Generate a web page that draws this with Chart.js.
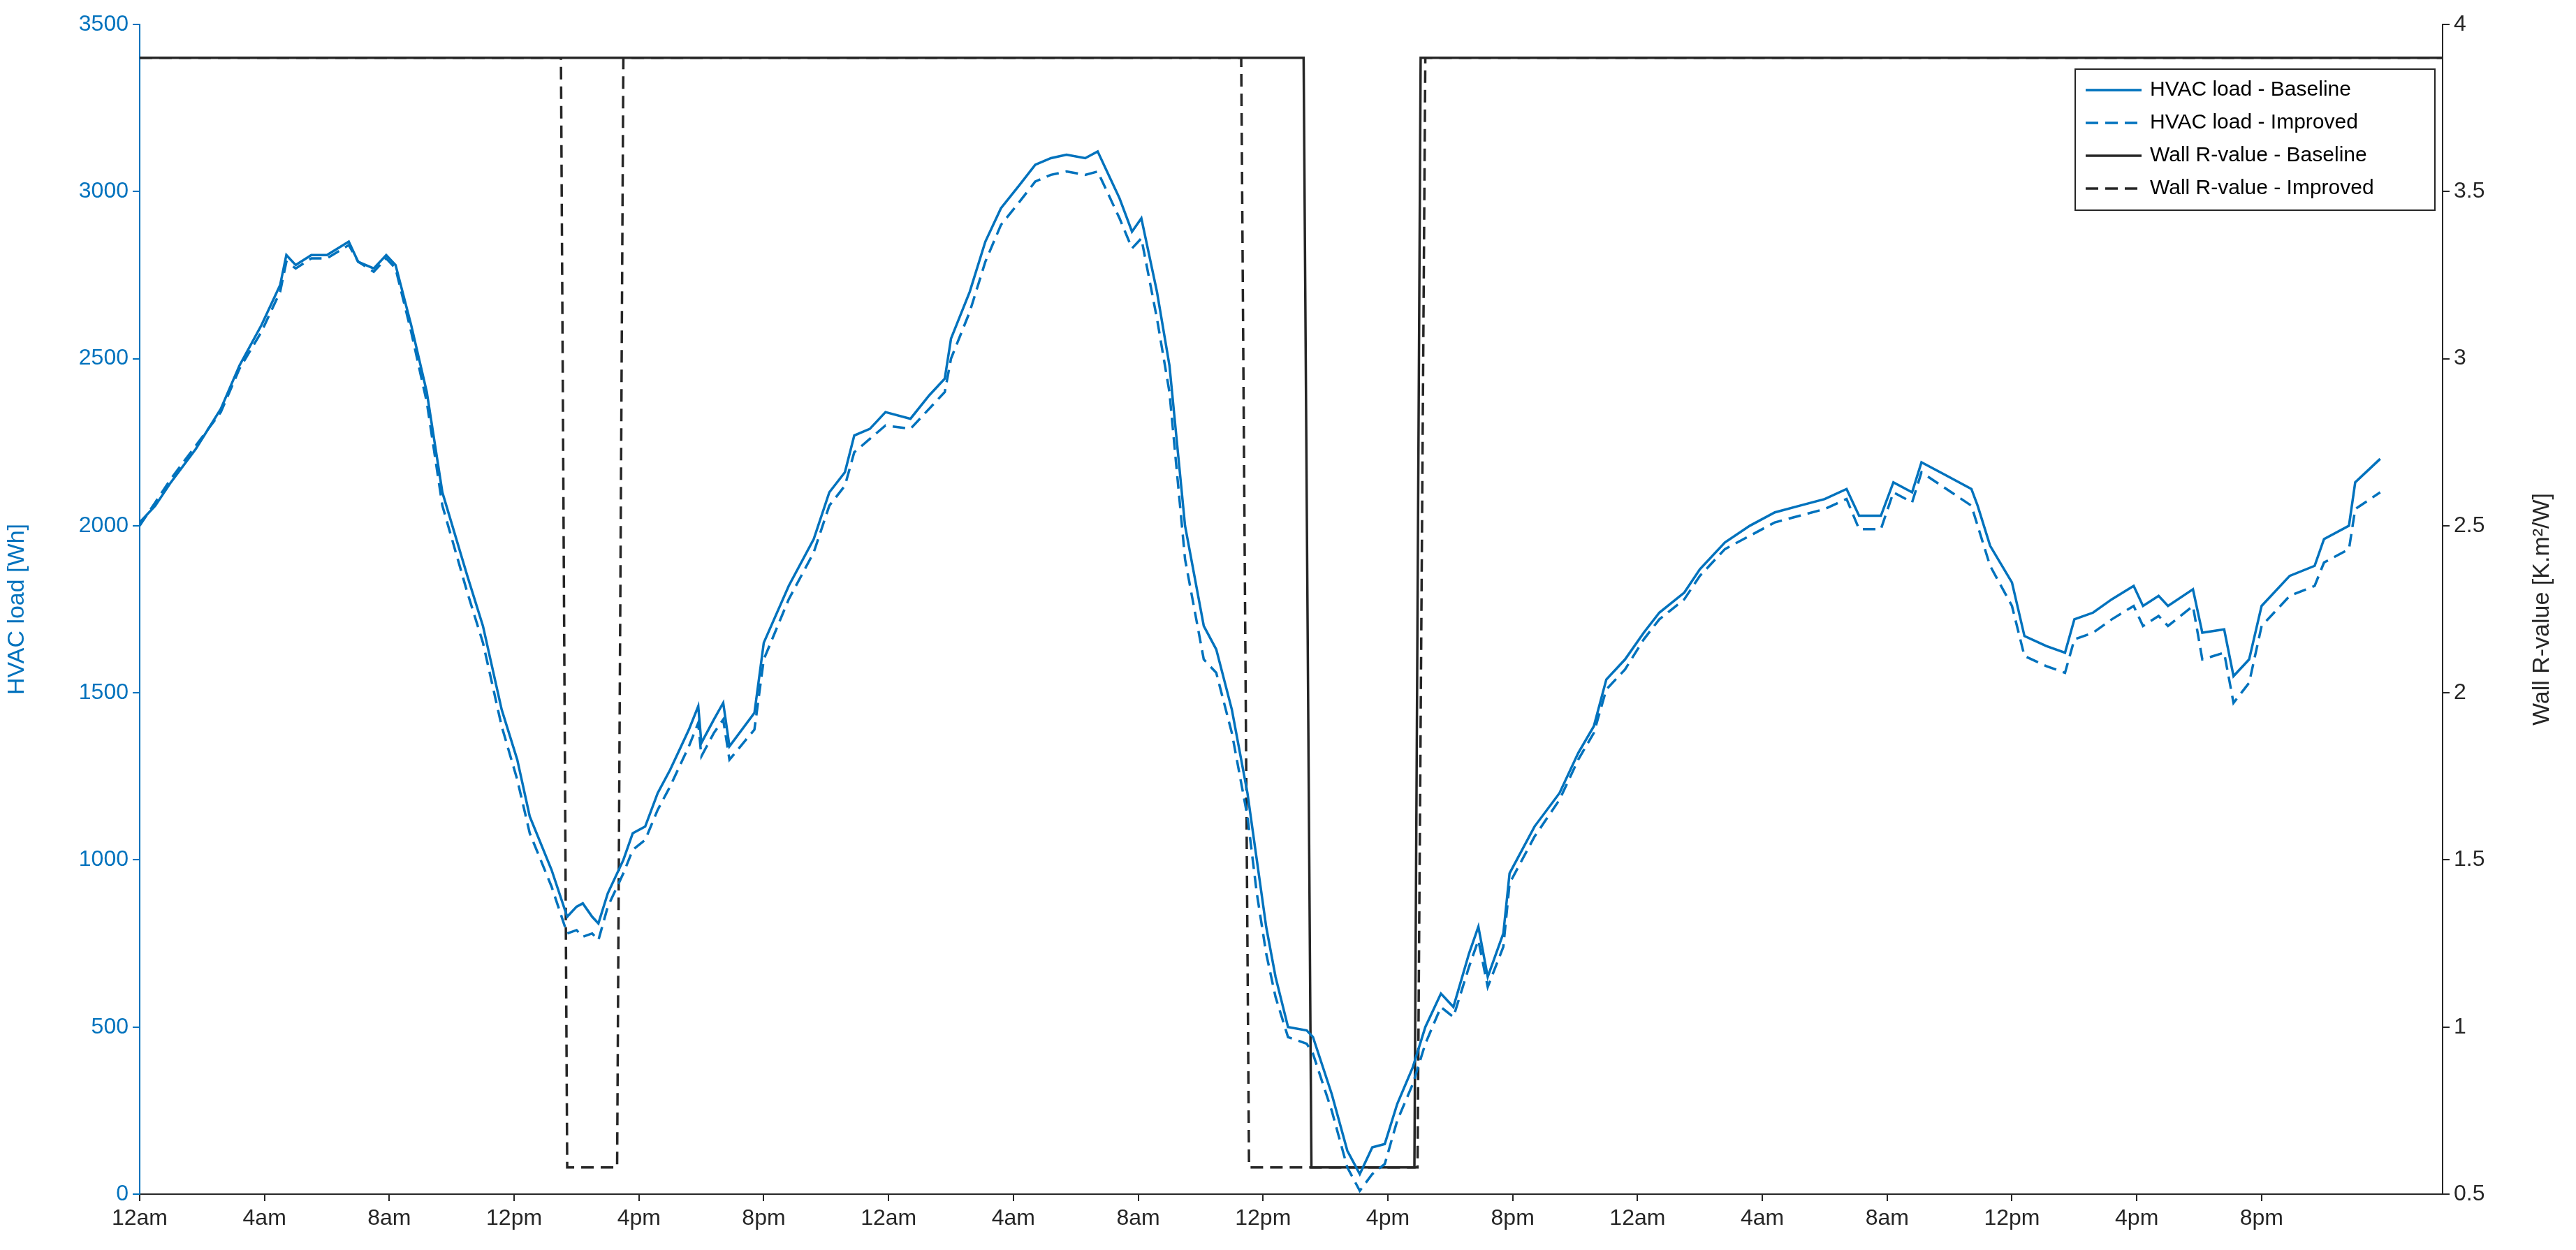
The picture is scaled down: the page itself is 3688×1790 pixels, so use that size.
<!DOCTYPE html>
<html><head><meta charset="utf-8">
<script src="https://cdn.jsdelivr.net/npm/chart.js@4"></script>
<style>html,body{margin:0;padding:0;background:#fff}#w{width:3688px;height:1790px}</style>
</head><body><div id="w"><canvas id="c"></canvas></div>
<script>
const hours = [0,0.5,1,1.8,2.6,3.2,3.9,4.5,4.7,5,5.5,6,6.7,7,7.5,7.9,8.2,8.7,9.2,9.7,10.5,11,11.6,12.1,12.5,13.2,13.7,14,14.2,14.5,14.7,15,15.5,15.8,16.2,16.6,17,17.4,17.6,17.9,18,18.4,18.7,18.9,19.7,20,20.8,21.6,22.1,22.6,22.9,23.4,23.9,24.7,25.3,25.8,26,26.6,27.1,27.6,28.2,28.7,29.2,29.7,30.3,30.7,31.1,31.4,31.8,32.1,32.6,33,33.5,34.1,34.5,35,35.5,35.8,36.1,36.4,36.8,37.4,37.6,38.2,38.7,39.1,39.5,39.9,40.3,40.8,41.2,41.7,42.1,42.6,42.9,43.2,43.7,43.9,44.7,45.5,46.1,46.6,47,47.6,48.2,48.7,49.5,50,50.8,51.6,52.4,53.2,54,54.7,55.1,55.8,56.2,56.8,57.1,57.9,58.7,58.9,59.3,60,60.4,61.1,61.7,62,62.6,63.2,63.9,64.2,64.7,65,65.8,66.1,66.8,67.1,67.6,68,68.9,69.7,70,70.8,71,71.8];
const loadBaseline = [2010,2060,2130,2230,2350,2480,2600,2720,2810,2780,2810,2810,2850,2790,2770,2810,2780,2600,2400,2100,1850,1700,1450,1300,1130,970,830,860,870,830,810,900,1000,1080,1100,1200,1270,1350,1390,1460,1350,1420,1470,1340,1440,1650,1820,1960,2100,2160,2270,2290,2340,2320,2390,2440,2560,2700,2850,2950,3020,3080,3100,3110,3100,3120,3040,2980,2880,2920,2700,2480,2000,1700,1630,1450,1200,1000,800,650,500,490,470,300,130,60,140,150,270,380,500,600,560,720,800,650,780,960,1100,1200,1320,1400,1540,1600,1680,1740,1800,1870,1950,2000,2040,2060,2080,2110,2030,2030,2130,2100,2190,2150,2110,2060,1940,1830,1670,1640,1620,1720,1740,1780,1820,1760,1790,1760,1810,1680,1690,1550,1600,1760,1850,1880,1960,2000,2130,2200];
const loadImproved = [2000,2070,2140,2240,2340,2470,2580,2700,2790,2770,2800,2800,2840,2790,2760,2800,2770,2580,2370,2060,1800,1650,1400,1240,1080,920,780,790,770,780,760,860,960,1030,1060,1150,1220,1300,1340,1410,1310,1380,1420,1300,1390,1600,1780,1920,2060,2120,2220,2260,2300,2290,2350,2400,2500,2640,2790,2900,2970,3030,3050,3060,3050,3060,2980,2920,2830,2860,2620,2400,1900,1600,1560,1380,1130,900,720,590,470,450,420,250,80,10,60,90,220,330,450,560,530,680,760,620,740,930,1070,1180,1300,1380,1510,1570,1660,1720,1780,1850,1930,1970,2010,2030,2050,2080,1990,1990,2100,2070,2160,2110,2060,2000,1880,1760,1610,1580,1560,1660,1680,1720,1760,1700,1730,1700,1760,1600,1620,1470,1530,1700,1790,1820,1890,1930,2050,2100];
const rHoursBaseline = [0,37.3,37.55,40.85,41.05,73.8];
const rBaseline = [3.9,3.9,0.58,0.58,3.9,3.9];
const rHoursImproved = [0,13.5,13.7,15.3,15.5,35.3,35.55,40.95,41.2,73.8];
const rImproved = [3.9,3.9,0.58,0.58,3.9,3.9,0.58,0.58,3.9,3.9];
const tickHours = [0,4,8,12,16,20,24,28,32,36,40,44,48,52,56,60,64,68];
const tickLabels = ['12am','4am','8am','12pm','4pm','8pm','12am','4am','8am','12pm','4pm','8pm','12am','4am','8am','12pm','4pm','8pm'];
const legendLabels = ['HVAC load - Baseline','HVAC load - Improved','Wall R-value - Baseline','Wall R-value - Improved'];
const rightTitle = 'Wall R-value [K.m²/W]';

const BLUE = '#0072BD', DARK = '#262626';
const pts = (xs, ys) => xs.map((x,i)=>({x, y: ys[i]}));
const F = 'Helvetica, "Liberation Sans", Arial, sans-serif';

const legendPlugin = {
  id:'legbox',
  afterDraw(chart){
    const ctx = chart.ctx;
    const x0=2971, y0=99, w=515, h=202;
    ctx.save();
    ctx.fillStyle='#fff'; ctx.fillRect(x0,y0,w,h);
    ctx.strokeStyle='#262626'; ctx.lineWidth=2; ctx.strokeRect(x0,y0,w,h);
    const styles=[[BLUE,[]],[BLUE,[18,10]],[DARK,[]],[DARK,[18,10]]];
    ctx.font='30px '+F; ctx.textBaseline='middle'; ctx.fillStyle='#000';
    legendLabels.forEach((t,i)=>{
      const yy=y0+30+i*47;
      ctx.strokeStyle=styles[i][0]; ctx.setLineDash(styles[i][1]); ctx.lineWidth=3.5;
      ctx.beginPath(); ctx.moveTo(x0+15,yy); ctx.lineTo(x0+95,yy); ctx.stroke();
      ctx.setLineDash([]); ctx.fillText(t,x0+107,yy);
    });
    // right axis title, reading bottom-to-top
    const ca = chart.chartArea;
    ctx.translate(3640,(ca.top+ca.bottom)/2);
    ctx.rotate(-Math.PI/2);
    ctx.textAlign='center'; ctx.fillStyle=DARK; ctx.font='34px '+F;
    ctx.fillText(rightTitle,0,0);
    ctx.restore();
  }
};

new Chart(document.getElementById('c'),{
  type:'line',
  data:{datasets:[
    {data:pts(hours,loadBaseline),borderColor:BLUE,borderWidth:3.5,pointRadius:0,yAxisID:'y',tension:0},
    {data:pts(hours,loadImproved),borderColor:BLUE,borderWidth:3.5,borderDash:[18,10],pointRadius:0,yAxisID:'y',tension:0},
    {data:pts(rHoursBaseline,rBaseline),borderColor:DARK,borderWidth:3.5,pointRadius:0,yAxisID:'y2',tension:0},
    {data:pts(rHoursImproved,rImproved),borderColor:DARK,borderWidth:3.5,borderDash:[18,10],pointRadius:0,yAxisID:'y2',tension:0}
  ]},
  options:{
    responsive:true,maintainAspectRatio:false,animation:false,
    layout:{padding:{top:35,left:0,right:0,bottom:0}},
    plugins:{legend:{display:false},tooltip:{enabled:false}},
    scales:{
      x:{type:'linear',min:0,max:73.8,
        afterBuildTicks:s=>{s.ticks=tickHours.map(v=>({value:v}));},
        afterFit:s=>{s.height=80;},
        ticks:{autoSkip:false,maxRotation:0,color:DARK,font:{size:32,family:F},padding:6,callback:(v)=>tickLabels[tickHours.indexOf(v)]},
        grid:{drawOnChartArea:false,tickLength:10,color:DARK,lineWidth:2},border:{color:DARK,width:2}},
      y:{position:'left',min:0,max:3500,
        afterFit:s=>{s.width=200;},
        ticks:{stepSize:500,color:BLUE,font:{size:32,family:F},padding:6,callback:v=>String(v)},
        title:{display:true,text:'HVAC load [Wh]',color:BLUE,font:{size:34,family:F},padding:4},
        grid:{drawOnChartArea:false,tickLength:10,color:BLUE,lineWidth:2},border:{color:BLUE,width:2}},
      y2:{position:'right',min:0.5,max:4,
        afterFit:s=>{s.width=191;},
        ticks:{stepSize:0.5,color:DARK,font:{size:32,family:F},padding:6,callback:v=>String(v)},
        grid:{drawOnChartArea:false,tickLength:10,color:DARK,lineWidth:2},border:{color:DARK,width:2}}
    }
  },
  plugins:[legendPlugin]
});
</script></body></html>
